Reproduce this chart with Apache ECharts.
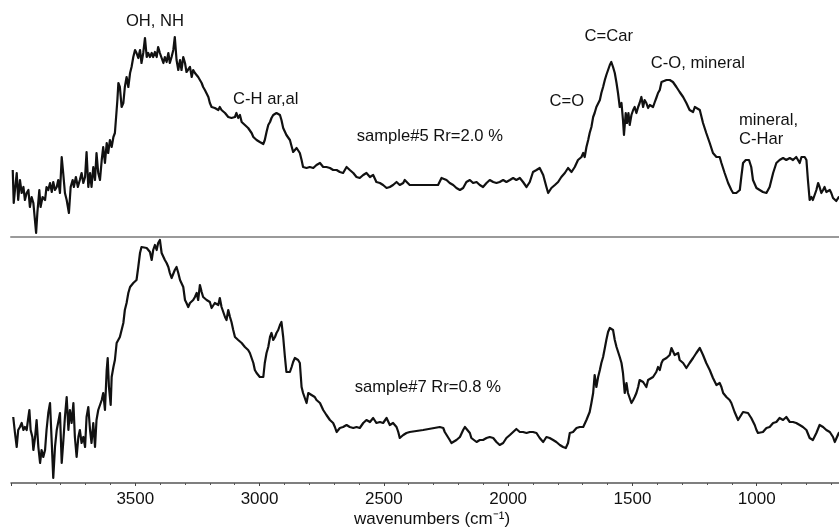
<!DOCTYPE html>
<html>
<head>
<meta charset="utf-8">
<script src="https://cdn.jsdelivr.net/npm/echarts@6/dist/echarts.min.js"></script>
<style>
  html, body { margin: 0; padding: 0; background: #fff; }
  #chart { width: 839px; height: 529px; }
</style>
</head>
<body>
<div id="chart"></div>
<script>
// FTIR spectra of two coal samples (absorbance, arbitrary units, offset per panel)

// sample#5 (Rr = 2.0 %)
const wnTop = [3993,3989,3984,3977,3971,3964,3957,3950,3944,3937,3930,3924,3917,3910,3899,3894,3886,3881,3873,3863,3857,3850,3843,3836,3830,3823,3816,3810,3803,3796,3790,3783,3776,3767,3760,3752,3747,3739,3731,3723,3716,3709,3702,3696,3689,3682,3676,3669,3662,3656,3649,3642,3635,3629,3622,3615,3609,3602,3595,3588,3582,3575,3572,3568,3562,3555,3548,3542,3535,3528,3521,3515,3508,3501,3495,3488,3481,3475,3468,3461,3454,3448,3441,3434,3428,3421,3414,3408,3401,3394,3387,3381,3374,3367,3361,3354,3347,3341,3334,3327,3320,3314,3307,3300,3294,3287,3280,3273,3267,3260,3253,3247,3240,3233,3227,3220,3213,3206,3200,3193,3186,3180,3173,3166,3160,3153,3146,3139,3133,3126,3119,3113,3106,3099,3093,3086,3079,3072,3066,3059,3052,3046,3039,3032,3025,3019,3012,3005,2999,2992,2985,2979,2972,2965,2958,2952,2945,2932,2925,2918,2912,2905,2892,2878,2865,2858,2851,2838,2831,2825,2811,2798,2784,2771,2757,2744,2731,2717,2704,2690,2677,2664,2650,2637,2623,2610,2597,2583,2570,2556,2543,2530,2516,2503,2489,2476,2463,2449,2436,2422,2416,2409,2396,2282,2268,2261,2248,2235,2221,2208,2194,2181,2168,2154,2141,2127,2114,2101,2087,2074,2060,2047,2034,2020,2007,1993,1980,1967,1953,1940,1926,1913,1900,1886,1873,1859,1846,1839,1826,1812,1799,1786,1772,1759,1745,1739,1732,1719,1705,1698,1692,1685,1678,1672,1665,1658,1652,1645,1631,1625,1618,1611,1605,1591,1585,1578,1571,1564,1558,1551,1544,1538,1534,1527,1522,1516,1511,1504,1497,1491,1484,1477,1471,1464,1457,1451,1444,1437,1430,1417,1410,1404,1397,1390,1383,1377,1363,1350,1337,1323,1310,1296,1283,1270,1256,1249,1243,1229,1216,1203,1189,1176,1162,1149,1142,1129,1115,1102,1095,1082,1068,1062,1055,1044,1031,1022,1015,1001,988,975,961,948,934,921,908,894,881,867,854,841,827,820,807,800,794,787,780,774,767,760,753,747,740,733,727,720,713,706,700,693,686,680,670,660];
const absTop = [0.67,0.34,0.47,0.64,0.37,0.57,0.44,0.50,0.37,0.44,0.47,0.30,0.40,0.34,0.04,0.24,0.47,0.30,0.40,0.37,0.50,0.47,0.54,0.45,0.55,0.47,0.50,0.57,0.44,0.80,0.64,0.44,0.37,0.24,0.50,0.57,0.50,0.60,0.50,0.57,0.64,0.54,0.60,0.85,0.50,0.64,0.50,0.70,0.57,0.84,0.64,0.57,0.77,0.90,0.74,0.94,0.84,0.97,0.90,1.00,1.04,1.27,1.37,1.54,1.50,1.30,1.34,1.50,1.60,1.50,1.64,1.70,1.80,1.87,1.84,1.79,1.87,1.74,1.84,1.99,1.80,1.84,1.80,1.84,1.80,1.85,1.80,1.90,1.84,1.79,1.74,1.80,1.75,1.84,1.74,1.80,1.87,2.00,1.77,1.67,1.77,1.67,1.80,1.74,1.65,1.64,1.70,1.60,1.67,1.64,1.62,1.60,1.57,1.54,1.50,1.47,1.45,1.40,1.34,1.30,1.32,1.29,1.30,1.27,1.30,1.27,1.29,1.24,1.25,1.20,1.22,1.19,1.17,1.20,1.24,1.19,1.22,1.15,1.17,1.12,1.14,1.09,1.07,1.04,1.00,0.99,0.97,0.99,0.95,0.97,0.93,0.97,1.05,1.12,1.15,1.19,1.22,1.24,1.24,1.22,1.17,1.09,1.02,0.97,0.85,0.84,0.89,0.84,0.77,0.70,0.69,0.70,0.69,0.72,0.74,0.70,0.70,0.69,0.67,0.67,0.65,0.64,0.70,0.67,0.64,0.60,0.59,0.62,0.64,0.60,0.62,0.55,0.54,0.52,0.49,0.50,0.52,0.55,0.52,0.54,0.57,0.55,0.52,0.52,0.59,0.60,0.57,0.54,0.52,0.49,0.47,0.49,0.55,0.57,0.54,0.55,0.52,0.50,0.54,0.57,0.55,0.54,0.55,0.57,0.55,0.57,0.59,0.57,0.59,0.55,0.50,0.55,0.65,0.67,0.69,0.62,0.50,0.44,0.49,0.52,0.55,0.60,0.64,0.69,0.65,0.64,0.70,0.77,0.80,0.84,0.80,0.90,0.97,1.04,1.10,1.20,1.24,1.30,1.37,1.44,1.50,1.57,1.62,1.72,1.75,1.70,1.64,1.54,1.44,1.30,1.34,1.17,1.02,1.24,1.14,1.24,1.12,1.22,1.27,1.30,1.24,1.30,1.34,1.40,1.30,1.37,1.34,1.29,1.32,1.30,1.35,1.39,1.44,1.47,1.55,1.54,1.57,1.57,1.55,1.50,1.45,1.40,1.34,1.27,1.25,1.30,1.32,1.27,1.14,1.04,0.94,0.84,0.80,0.80,0.74,0.64,0.54,0.47,0.44,0.44,0.47,0.60,0.74,0.77,0.77,0.70,0.57,0.49,0.47,0.45,0.44,0.50,0.64,0.74,0.77,0.79,0.77,0.79,0.77,0.80,0.74,0.80,0.80,0.77,0.57,0.37,0.40,0.37,0.42,0.47,0.54,0.50,0.44,0.47,0.50,0.45,0.44,0.47,0.44,0.39,0.37,0.36,0.40,0.40];

// sample#7 (Rr = 0.8 %)
const wnBottom = [3991,3984,3977,3971,3964,3957,3950,3944,3937,3930,3926,3921,3914,3910,3903,3897,3890,3883,3877,3870,3863,3857,3850,3843,3836,3830,3823,3816,3810,3803,3796,3790,3783,3776,3769,3763,3756,3749,3743,3736,3729,3723,3716,3709,3702,3696,3689,3682,3676,3669,3662,3656,3649,3642,3635,3629,3622,3615,3611,3606,3599,3595,3588,3582,3575,3568,3562,3555,3548,3542,3535,3528,3521,3515,3508,3501,3495,3488,3481,3475,3468,3454,3441,3434,3428,3421,3414,3408,3401,3394,3387,3381,3374,3367,3361,3354,3347,3341,3334,3327,3320,3314,3307,3300,3294,3287,3280,3273,3267,3260,3253,3247,3240,3233,3227,3220,3213,3206,3200,3193,3186,3180,3173,3166,3160,3153,3146,3139,3133,3126,3119,3113,3106,3099,3086,3072,3059,3046,3039,3032,3025,3019,3012,3005,2999,2992,2985,2979,2972,2965,2958,2952,2945,2938,2932,2925,2918,2912,2905,2898,2892,2885,2878,2871,2865,2858,2851,2845,2838,2831,2825,2818,2811,2804,2798,2791,2784,2778,2771,2757,2751,2744,2731,2717,2704,2697,2690,2677,2664,2650,2637,2623,2610,2597,2583,2570,2556,2543,2530,2516,2503,2489,2476,2463,2449,2442,2436,2422,2409,2396,2342,2275,2261,2255,2248,2235,2228,2221,2208,2194,2181,2174,2168,2154,2148,2141,2127,2114,2101,2087,2074,2060,2047,2034,2020,2007,1993,1980,1967,1953,1940,1926,1913,1900,1886,1873,1859,1846,1833,1819,1806,1792,1779,1768,1759,1752,1745,1739,1725,1712,1698,1685,1672,1665,1658,1652,1645,1638,1631,1625,1618,1611,1605,1598,1591,1585,1578,1571,1564,1551,1544,1538,1531,1524,1518,1511,1504,1497,1491,1484,1477,1471,1464,1457,1451,1444,1437,1430,1417,1404,1397,1390,1383,1377,1363,1350,1343,1337,1330,1323,1316,1310,1296,1283,1270,1256,1243,1229,1223,1216,1203,1189,1176,1162,1149,1142,1135,1122,1109,1102,1089,1075,1068,1055,1048,1035,1022,1008,1001,995,988,975,961,948,934,921,908,894,881,867,854,841,827,814,800,787,774,760,747,733,720,706,693,686,680,670,660];
const absBottom = [0.66,0.50,0.36,0.53,0.56,0.60,0.53,0.56,0.53,0.66,0.73,0.53,0.46,0.33,0.46,0.63,0.36,0.20,0.33,0.26,0.33,0.53,0.70,0.80,0.40,0.05,0.36,0.53,0.53,0.70,0.20,0.40,0.66,0.86,0.53,0.73,0.60,0.80,0.46,0.26,0.46,0.53,0.40,0.46,0.36,0.66,0.76,0.53,0.40,0.60,0.36,0.63,0.73,0.73,0.83,0.90,0.73,1.13,1.25,0.96,0.78,1.06,1.16,1.23,1.40,1.40,1.46,1.46,1.60,1.73,1.80,1.90,1.96,1.96,2.00,1.98,2.03,2.16,2.30,2.36,2.35,2.35,2.31,2.23,2.33,2.38,2.33,2.40,2.43,2.30,2.28,2.23,2.20,2.16,2.10,2.05,2.06,2.13,2.16,2.10,2.03,2.03,1.96,1.83,1.80,1.76,1.80,1.81,1.83,1.86,1.90,1.83,1.98,1.91,1.86,1.86,1.83,1.85,1.81,1.75,1.76,1.80,1.81,1.78,1.85,1.76,1.75,1.66,1.63,1.73,1.66,1.61,1.53,1.46,1.43,1.40,1.36,1.33,1.30,1.25,1.20,1.13,1.10,1.08,1.06,1.05,1.06,1.20,1.30,1.36,1.46,1.50,1.43,1.46,1.50,1.53,1.58,1.61,1.46,1.26,1.11,1.13,1.11,1.16,1.21,1.25,1.25,1.23,1.20,0.96,0.90,0.85,0.80,0.90,0.91,0.88,0.90,0.86,0.83,0.80,0.78,0.73,0.68,0.63,0.60,0.56,0.51,0.55,0.56,0.58,0.56,0.55,0.56,0.55,0.60,0.63,0.61,0.65,0.60,0.61,0.60,0.65,0.58,0.60,0.56,0.51,0.45,0.48,0.50,0.51,0.53,0.56,0.55,0.51,0.50,0.43,0.40,0.38,0.43,0.46,0.53,0.56,0.55,0.50,0.45,0.43,0.41,0.43,0.43,0.45,0.46,0.45,0.41,0.38,0.40,0.45,0.48,0.51,0.54,0.51,0.51,0.50,0.51,0.51,0.50,0.45,0.41,0.46,0.45,0.43,0.41,0.38,0.36,0.35,0.40,0.50,0.48,0.51,0.55,0.56,0.56,0.63,0.71,0.80,0.90,1.08,0.96,1.06,1.13,1.20,1.26,1.35,1.43,1.51,1.55,1.56,1.53,1.43,1.36,1.26,1.20,1.10,0.90,1.00,0.90,0.85,0.80,0.83,0.86,0.90,0.96,1.03,1.05,1.01,1.00,0.96,1.03,1.01,1.06,1.11,1.16,1.13,1.20,1.23,1.25,1.28,1.35,1.33,1.28,1.28,1.30,1.23,1.20,1.15,1.20,1.25,1.30,1.35,1.33,1.28,1.20,1.13,1.05,0.98,1.00,0.96,0.90,0.86,0.83,0.80,0.71,0.63,0.65,0.71,0.73,0.70,0.65,0.58,0.53,0.50,0.51,0.51,0.55,0.56,0.60,0.61,0.65,0.63,0.66,0.61,0.61,0.60,0.58,0.56,0.53,0.45,0.43,0.50,0.58,0.56,0.53,0.51,0.46,0.41,0.40,0.50,0.52];

// x-axis tick labels shown under the lower panel
const tickLabels = [3500, 3000, 2500, 2000, 1500, 1000];

// annotation texts: [label, wavenumber, absorbance, panel]
const bandLabels = [
  ['OH, NH', 3421, 2.16, 0],
  ['C-H ar,al', 2975, 1.38, 0],
  ['sample#5 Rr=2.0 %', 2315, 1.01, 0],
  ['C=O', 1764, 1.36, 0],
  ['C=Car', 1595, 2.01, 0],
  ['C-O, mineral', 1237, 1.74, 0],
  ['sample#7 Rr=0.8 %', 2323, 0.96, 1]
];

const pairs = (xs, ys) => xs.map((x, i) => [x, ys[i]]);

const FONT = '"Liberation Sans", Arial, sans-serif';
const chart = echarts.init(document.getElementById('chart'), null, { renderer: 'canvas' });

const axisBase = {
  type: 'value', inverse: true, min: 500, max: 4000, interval: 500,
  splitLine: { show: false }
};

const labelSeries = (panel) => ({
  type: 'scatter', xAxisIndex: panel, yAxisIndex: panel,
  symbolSize: 0, silent: true,
  itemStyle: { opacity: 1 },
  data: bandLabels.filter(b => b[3] === panel).map(b => ({ value: [b[1], b[2]], name: b[0] })),
  label: {
    show: true, position: 'inside', formatter: p => p.name,
    color: '#111', fontFamily: FONT, fontSize: 16.6
  }
});

chart.setOption({
  animation: false,
  backgroundColor: '#ffffff',
  grid: [
    { left: 11, top: 0, width: 870, height: 237, outerBoundsMode: 'none' },
    { left: 11, top: 237, width: 870, height: 246, outerBoundsMode: 'none' }
  ],
  xAxis: [
    Object.assign({}, axisBase, {
      gridIndex: 0,
      axisLine: { show: true, lineStyle: { color: '#9a9a9a', width: 2 } },
      axisTick: { show: false }, axisLabel: { show: false }
    }),
    Object.assign({}, axisBase, {
      gridIndex: 1,
      axisLine: { show: true, lineStyle: { color: '#555', width: 1.5 } },
      axisTick: { show: true, inside: false, length: 3, lineStyle: { color: '#444', width: 1 } },
      minorTick: { show: true, splitNumber: 5, length: 2, lineStyle: { color: '#555', width: 1 } },
      axisLabel: {
        margin: 8, color: '#111', fontFamily: FONT, fontSize: 17,
        formatter: v => (tickLabels.indexOf(v) >= 0 ? String(v) : '')
      }
    })
  ],
  yAxis: [
    { type: 'value', gridIndex: 0, min: 0, max: 2.37, show: false, splitLine: { show: false } },
    { type: 'value', gridIndex: 1, min: 0, max: 2.46, show: false, splitLine: { show: false } }
  ],
  series: [
    {
      type: 'line', xAxisIndex: 0, yAxisIndex: 0, data: pairs(wnTop, absTop),
      showSymbol: false, clip: false,
      lineStyle: { color: '#111', width: 2.2, join: 'round' }
    },
    {
      type: 'line', xAxisIndex: 1, yAxisIndex: 1, data: pairs(wnBottom, absBottom),
      showSymbol: false, clip: false,
      lineStyle: { color: '#111', width: 2.2, join: 'round' }
    },
    labelSeries(0),
    labelSeries(1)
  ],
  graphic: [
    {
      type: 'text', left: 739, top: 111,
      style: { text: 'mineral,\nC-Har', font: '16.6px ' + FONT, fill: '#111', lineHeight: 19 }
    },
    {
      type: 'text', x: 432, y: 519,
      style: {
        text: 'wavenumbers (cm\u207B\u00B9)', font: '17px ' + FONT, fill: '#111',
        align: 'center', verticalAlign: 'middle'
      }
    }
  ]
});
</script>
</body>
</html>
